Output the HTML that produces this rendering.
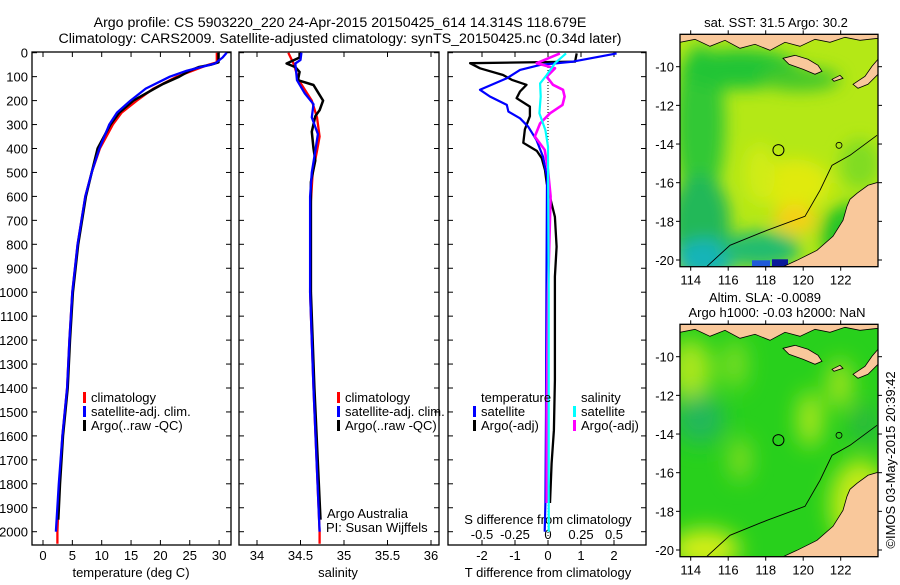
<!DOCTYPE html>
<html><head><meta charset="utf-8"><style>
html,body{margin:0;padding:0;background:#fff;}
svg text{font-family:"Liberation Sans",sans-serif;font-size:13px;fill:#000;}
svg text.ttl{font-size:14.2px;}
</style></head><body>
<svg id="chart" width="900" height="580" xmlns="http://www.w3.org/2000/svg">
<defs>
<filter id="blur1" x="-30%" y="-30%" width="160%" height="160%"><feGaussianBlur stdDeviation="8"/></filter>
<filter id="blur2" x="-30%" y="-30%" width="160%" height="160%"><feGaussianBlur stdDeviation="11"/></filter>
<clipPath id="clipM1"><rect x="680" y="34.3" width="198" height="232.4"/></clipPath>
<clipPath id="clipM2"><rect x="680" y="324.3" width="198" height="232.4"/></clipPath>
</defs>
<text class="ttl" x="340" y="27" text-anchor="middle">Argo profile: CS 5903220_220 24-Apr-2015 20150425_614 14.314S 118.679E</text>
<text class="ttl" x="340" y="43" text-anchor="middle">Climatology: CARS2009. Satellite-adjusted climatology: synTS_20150425.nc (0.34d later)</text>
<g id="panels"></g>
<g id="maps"></g>
<text transform="translate(895,460) rotate(-90)" text-anchor="middle">©IMOS 03-May-2015 20:39:42</text>
</svg>
<script>
// ---------- data ----------
const depthTicks = [0,100,200,300,400,500,600,700,800,900,1000,1100,1200,1300,1400,1500,1600,1700,1800,1900,2000];
const tempTicks = [0,5,10,15,20,25,30];
const salTicks = [34,34.5,35,35.5,36];
const tdiffTicks = [-2,-1,0,1,2];
const sdiffTicks = [-0.5,-0.25,0,0.25,0.5];
const lonTicks = [114,116,118,120,122];
const latTicks = [-10,-12,-14,-16,-18,-20];

const tClimDepth = [0,40,50,75,100,150,200,250,300,400,500,600,800,1000,1200,1400,1600,1800,2000,2050];
const tClimVal   = [29.6,29.6,28.2,25.5,22.8,18.8,16.0,13.4,11.9,9.7,8.3,7.2,5.9,5.0,4.5,4.1,3.3,2.8,2.45,2.45];
const tSatDepth  = [0,20,45,75,100,150,200,250,300,400,500,600,800,1000,1200,1400,1600,1800,2000];
const tSatVal    = [31.3,30.6,29.3,24.5,21.6,17.5,14.9,12.6,11.3,9.6,8.3,7.2,5.9,5.0,4.5,4.1,3.3,2.7,2.2];
const tArgoDepth = [0,40,50,60,75,100,130,150,200,250,300,350,400,500,600,800,1000,1200,1400,1600,1800,1950];
const tArgoVal   = [29.9,29.9,28.6,26.5,25.0,23.2,20.5,19.0,15.4,13.0,11.5,10.4,9.3,8.3,7.3,6.0,5.1,4.6,4.2,3.4,2.9,2.6];

const sClimDepth = [0,45,115,200,270,350,410,500,620,1000,1400,2000,2050];
const sClimVal   = [34.36,34.42,34.48,34.63,34.69,34.72,34.69,34.64,34.62,34.61,34.65,34.72,34.72];
const sSatDepth  = [0,30,45,115,170,215,270,340,410,500,600,1000,1400,2000];
const sSatVal    = [34.51,34.50,34.44,34.46,34.55,34.65,34.63,34.70,34.67,34.63,34.61,34.61,34.65,34.72];
const sArgoDepth = [0,20,45,60,80,115,135,165,200,240,265,330,400,450,540,1000,1400,1950];
const sArgoVal   = [34.49,34.49,34.34,34.44,34.49,34.47,34.65,34.70,34.76,34.72,34.67,34.63,34.65,34.67,34.62,34.62,34.66,34.73];

const dtArgoDepth = [3,37,44,65,93,113,134,162,190,225,265,320,376,410,440,490,545,630,685,810,935,1367,1576,1715,1880];
const dtArgoVal   = [0.87,0.82,-2.36,-2.06,-1.36,-1.1,-0.65,-0.85,-0.95,-0.55,-0.55,-0.7,-0.75,-0.34,-0.19,-0.09,-0.04,0.11,0.21,0.26,0.21,0.21,0.18,0.11,0.06];
const dtSatDepth  = [3,37,51,72,107,155,183,218,246,274,309,365,434,518,1000,1500,1880,2000];
const dtSatVal    = [2.08,0.76,-0.24,-0.85,-1.25,-2.06,-1.76,-1.25,-1.2,-0.85,-0.6,-0.35,-0.15,-0.03,-0.05,-0.06,-0.08,-0.1];
const dsSatDepth  = [3,44,93,128,183,253,323,392,1000,1500,2000];
const dsSatVal    = [0.136,0.053,-0.01,-0.06,-0.055,-0.065,-0.02,0.0,0.005,0.005,0.005];
const dsArgoDepth = [3,44,65,100,134,155,183,218,253,295,350,406,490,600,1000,1500,1880];
const dsArgoVal   = [0.09,-0.086,0.053,-0.01,0.038,0.114,0.126,0.11,0.015,-0.06,-0.1,-0.025,0.0,0.02,0.0,-0.01,-0.01];

// ---------- geometry ----------
const Y0 = 52.7, PXM = 0.2395, TOP = 52, BOT = 545;
const yD = d => Y0 + d*PXM;
const xT = t => 43 + t*5.87;
const xS = s => 257 + (s-34)*87;
const xDT = v => 548 + v*33;
const xDS = v => 548 + v*132;
const NS = 'http://www.w3.org/2000/svg';
const panels = document.getElementById('panels');
const maps = document.getElementById('maps');
function mk(tag, attrs, parent){ const e=document.createElementNS(NS,tag); for(const k in attrs) e.setAttribute(k,attrs[k]); (parent||panels).appendChild(e); return e; }
function txt(x,y,s,anchor,parent){ const e=mk('text',{x:x,y:y,'text-anchor':anchor||'start'},parent); e.textContent=s; return e; }
function line(depths, vals, fx, color, w, name){
  const pts = depths.map((d,i)=>fx(vals[i]).toFixed(1)+','+yD(d).toFixed(1)).join(' ');
  const p = mk('polyline',{points:pts,fill:'none',stroke:color,'stroke-width':w,'stroke-linejoin':'round'});
  
  
}
function frame(x0,x1,name){
  const r = mk('rect',{x:x0,y:TOP,width:x1-x0,height:BOT-TOP,fill:'none',stroke:'#000','stroke-width':1.3});
  
  
  depthTicks.forEach(d=>{ mk('line',{x1:x0,x2:x0+5,y1:yD(d),y2:yD(d),stroke:'#000'}); mk('line',{x1:x1-5,x2:x1,y1:yD(d),y2:yD(d),stroke:'#000'}); });
}
function xticks(vals, fx, labelY, name){
  vals.forEach(v=>{
    const x=fx(v);
    mk('line',{x1:x,x2:x,y1:BOT,y2:BOT-5,stroke:'#000'});
    mk('line',{x1:x,x2:x,y1:TOP,y2:TOP+5,stroke:'#000'});
    const t=txt(x,labelY,String(v),'middle');
    
    
  });
}
function legendItem(x,y,color,label,name){
  mk('rect',{x:x,y:y-10,width:3,height:11,fill:color});
  const t=txt(x+8,y,label);
  
  
}

// ---------- panel 1 temperature ----------
frame(32,231,'temperature-panel');
depthTicks.forEach(d=>{ const t=txt(28,yD(d)+5,String(d),'end');   });
xticks(tempTicks,xT,560,'temperature-tick-label');
txt(131,577,'temperature (deg C)','middle');
line(tClimDepth,tClimVal,xT,'#ff0000',2.3,'temperature-climatology-line');
line(tArgoDepth,tArgoVal,xT,'#000000',2.5,'temperature-argo-line');
line(tSatDepth,tSatVal,xT,'#0000ff',2.3,'temperature-satellite-line');
legendItem(83,402,'#ff0000','climatology','legend-climatology');
legendItem(83,416,'#0000ff','satellite-adj. clim.','legend-satellite-adj');
legendItem(83,430,'#000000','Argo(..raw -QC)','legend-argo');

// ---------- panel 2 salinity ----------
frame(239,439,'salinity-panel');
xticks(salTicks,xS,560,'salinity-tick-label');
txt(338,577,'salinity','middle');
line(sClimDepth,sClimVal,xS,'#ff0000',2.3,'salinity-climatology-line');
line(sArgoDepth,sArgoVal,xS,'#000000',2.5,'salinity-argo-line');
line(sSatDepth,sSatVal,xS,'#0000ff',2.3,'salinity-satellite-line');
legendItem(337,402,'#ff0000','climatology','legend-climatology-sal');
legendItem(337,416,'#0000ff','satellite-adj. clim.','legend-satellite-adj-sal');
legendItem(337,430,'#000000','Argo(..raw -QC)','legend-argo-sal');
txt(327,518,'Argo Australia');
txt(326,532,'PI: Susan Wijffels');

// ---------- panel 3 differences ----------
frame(448,646,'difference-panel');
xticks(tdiffTicks,xDT,560,'tdiff-tick-label');
sdiffTicks.forEach(v=>{ const t=txt(xDS(v),539,String(v),'middle');   });
txt(548,524,'S difference from climatology','middle');
txt(548,577,'T difference from climatology','middle');
mk('line',{x1:548,x2:548,y1:TOP,y2:BOT,stroke:'#000','stroke-dasharray':'1,2'});
line(dtArgoDepth,dtArgoVal,xDT,'#000000',2.3,'tdiff-argo-line');
line(dtSatDepth,dtSatVal,xDT,'#0000ff',2.2,'tdiff-satellite-line');
line(dsArgoDepth,dsArgoVal,xDS,'#ff00ff',2.6,'sdiff-argo-line');
line(dsSatDepth,dsSatVal,xDS,'#00ffff',2.2,'sdiff-satellite-line');
txt(481,402,'temperature');
txt(581,402,'salinity');
legendItem(473,416,'#0000ff','satellite','legend-t-satellite');
legendItem(473,430,'#000000','Argo(-adj)','legend-t-argo');
legendItem(573,416,'#00ffff','satellite','legend-s-satellite');
legendItem(573,430,'#ff00ff','Argo(-adj)','legend-s-argo');

// ---------- maps ----------
const MW = 198, MH = 232.4;
function drawMap(oy, kind){
  const X=lon=>690.7+(lon-114)*18.75, Y=lat=>oy+32.4+(-10-lat)*19.33;
  const g=mk('g',{'clip-path':'url(#clipM'+kind+')'},maps);
  
  
  const E=(cx,cy,rx,ry,f,p)=>mk('ellipse',{cx:cx,cy:oy+cy,rx:rx,ry:ry,fill:f},p);
  if(kind===1){
    mk('rect',{x:680,y:oy,width:MW,height:MH,fill:'#b4e816'},g);
    const b=mk('g',{filter:'url(#blur1)'},g);
    E(700,90,25,80,'#30c834',b);
    E(740,35,60,20,'#22c434',b);
    E(800,45,40,12,'#44c82c',b);
    E(700,190,30,50,'#20b858',b);
    E(705,225,30,20,'#18b4b8',b);
    E(760,215,40,18,'#24bc70',b);
    E(850,200,30,30,'#28c428',b);
    E(860,130,20,25,'#80dc20',b);
    E(795,150,35,25,'#e0ea10',b);
    E(795,185,22,15,'#f4d018',b);
    E(760,140,15,30,'#d0ec14',b);
    mk('rect',{x:772,y:oy+225,width:16,height:8,fill:'#0a1a9a'},g);
    mk('rect',{x:752,y:oy+226,width:18,height:7,fill:'#1f5ad8'},g);
  } else {
    mk('rect',{x:680,y:oy,width:MW,height:MH,fill:'#28d01c'},g);
    const b=mk('g',{filter:'url(#blur2)'},g);
    E(690,45,22,30,'#a8e61a',b);
    E(735,40,12,25,'#7ede24',b);
    E(810,95,12,28,'#b0e81a',b);
    E(840,60,12,25,'#a4e41a',b);
    E(740,135,10,22,'#8ade22',b);
    E(700,95,25,25,'#22b85a',b);
    E(705,225,35,20,'#d4ee12',b);
    E(860,180,30,45,'#c4ea18',b);
    E(865,100,14,20,'#2cb840',b);
  }
  const st={fill:'#f9c89b',stroke:'#000','stroke-width':0.8};
  const P=(arr)=>arr.map(p=>p[0]+','+(oy+p[1]).toFixed(1)).join(' ');
  mk('polygon',Object.assign({points:P([[680,0],[878,0],[878,4],[860,6],[845,3],[830,8],[815,5],[800,12],[785,8],[770,16],[755,10],[740,14],[725,6],[710,12],[695,5],[680,8]])},st),g);
  mk('polygon',Object.assign({points:P([[783,24],[795,21],[808,25],[818,31],[822,37],[815,40],[803,35],[789,30]])},st),g);
  mk('polygon',Object.assign({points:P([[832,45],[840,41],[843,44],[834,47]])},st),g);
  mk('polygon',Object.assign({points:P([[853,50],[865,42],[872,32],[878,25],[878,40],[868,50],[858,54]])},st),g);
  mk('polygon',Object.assign({points:P([[878,148],[868,151],[857,159],[850,165],[847,172],[843,186],[833,202],[817,216],[797,226],[783,232.4],[878,232.4]])},st),g);
  mk('polyline',{points:P([[707,232],[730,211],[767,196],[805,182],[820,156],[832,131],[850,121],[877,101]]),fill:'none',stroke:'#000','stroke-width':0.9},g);
  mk('ellipse',{cx:839,cy:oy+111,rx:3,ry:3,fill:'none',stroke:'#000','stroke-width':0.8},g);
  const c=mk('circle',{cx:X(118.679),cy:Y(-14.314),r:5.5,fill:'none',stroke:'#000','stroke-width':1},g);
  
  
  mk('rect',{x:680,y:oy,width:MW,height:MH,fill:'none',stroke:'#000','stroke-width':1.3},maps);
  lonTicks.forEach(l=>{ const x=X(l); mk('line',{x1:x,x2:x,y1:oy-4,y2:oy,stroke:'#000'},maps); mk('line',{x1:x,x2:x,y1:oy+MH,y2:oy+MH+4,stroke:'#000'},maps);
    const t=txt(x,oy+MH+18,String(l),'middle',maps);   });
  latTicks.forEach(l=>{ const y=Y(l); mk('line',{x1:676,x2:680,y1:y,y2:y,stroke:'#000'},maps); mk('line',{x1:878,x2:882,y1:y,y2:y,stroke:'#000'},maps);
    const t=txt(674,y+5,String(l),'end',maps);   });
}
drawMap(34.3,1);
drawMap(324.3,2);
txt(776,27,'sat. SST: 31.5 Argo: 30.2','middle',maps);
txt(765,302,'Altim. SLA: -0.0089','middle',maps);
txt(777,317,'Argo h1000: -0.03 h2000: NaN','middle',maps);
</script>
</body></html>
